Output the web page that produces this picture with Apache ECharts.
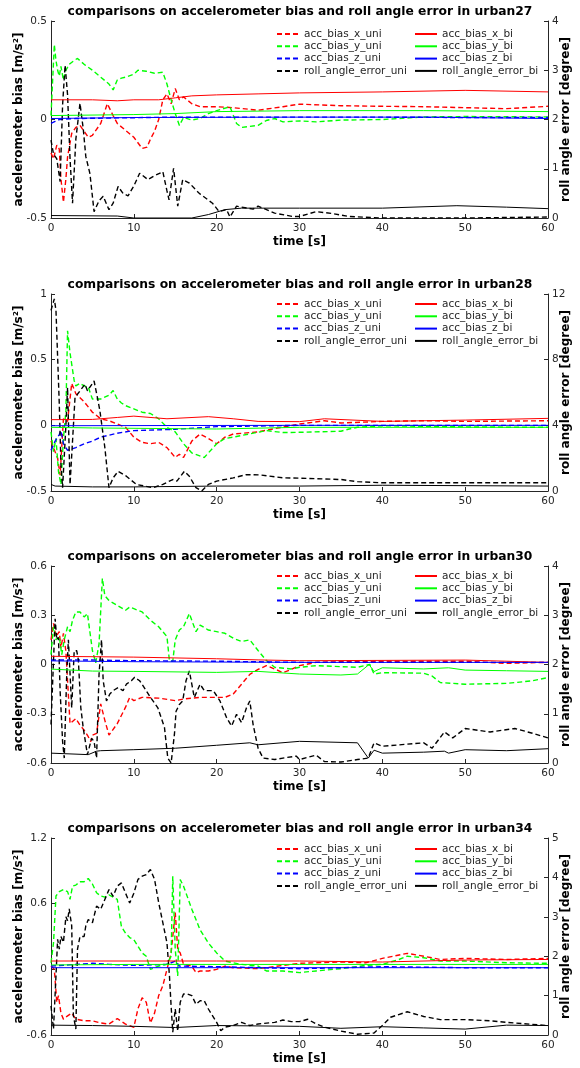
<!DOCTYPE html>
<html>
<head>
<meta charset="utf-8">
<script src="https://cdn.jsdelivr.net/npm/echarts@6/dist/echarts.min.js"></script>
<style>
html,body{margin:0;padding:0;background:#fff;}
#chart{width:580px;height:1068px;}
</style>
</head>
<body>
<div id="chart"></div>
<script>
// ---------- labels ----------
const seriesNames = ['acc_bias_x_uni','acc_bias_y_uni','acc_bias_z_uni','roll_angle_error_uni',
                     'acc_bias_x_bi','acc_bias_y_bi','acc_bias_z_bi','roll_angle_error_bi'];
const titles = ['comparisons on accelerometer bias and roll angle error in urban27',
                'comparisons on accelerometer bias and roll angle error in urban28',
                'comparisons on accelerometer bias and roll angle error in urban30',
                'comparisons on accelerometer bias and roll angle error in urban34'];
const xName = 'time [s]';
const leftName = 'accelerometer bias [m/s²]';
const rightName = 'roll angle error [degree]';
const xTicks = [0, 60, 10];
const leftMin = [-0.5, -0.5, -0.6, -0.6];
const leftMax = [0.5, 1, 0.6, 1.2];
const leftStep = [0.5, 0.5, 0.3, 0.6];
const rightMax = [4, 12, 4, 5];
const rightStep = [1, 4, 1, 1];

// ---------- urban27 ----------
const u27_x_uni = [[0,-0.17],[0.3,-0.2],[0.7,-0.13],[1,-0.15],[1.2,-0.3],[1.5,-0.42],[1.8,-0.3],[2,-0.19],[2.5,-0.07],[3,-0.04],[3.5,-0.03],[4,-0.06],[4.5,-0.09],[5,-0.08],[6,-0.02],[6.8,0.08],[7.5,0.02],[8,-0.02],[9,-0.055],[10,-0.09],[11,-0.147],[11.6,-0.14],[12,-0.1],[12.5,-0.06],[13,0],[13.5,0.1],[14,0.13],[14.5,0.08],[15,0.157],[15.5,0.1],[16,0.115],[17,0.08],[18,0.065],[20,0.065],[22,0.06],[25,0.047],[28,0.065],[30,0.078],[35,0.07],[40,0.067],[45,0.065],[50,0.06],[55,0.055],[60,0.067]];
const u27_y_uni = [[0,0.02],[0.2,0.2],[0.4,0.38],[0.6,0.3],[0.8,0.25],[1,0.22],[1.2,0.27],[1.5,0.2],[1.8,0.25],[2.2,0.28],[2.8,0.3],[3.2,0.31],[4,0.28],[5,0.25],[6,0.215],[7,0.18],[7.5,0.15],[8,0.2],[8.5,0.21],[9,0.215],[10,0.23],[10.5,0.25],[11.5,0.245],[12.5,0.235],[13.5,0.24],[14,0.18],[14.5,0.1],[15,0.03],[15.5,-0.03],[16,0.01],[17,-0.003],[18,0.005],[19,0.03],[20,0.045],[21.6,0.065],[22.4,-0.02],[23,-0.04],[25,-0.03],[26,-0.005],[27,0.005],[28,-0.012],[30,-0.007],[32,-0.012],[35,-0.003],[40,0],[45,0.013],[50,0.015],[60,0.013]];
const u27_z_uni = [[0,-0.02],[0.5,-0.01],[1,0],[3,0.005],[8,0.008],[15,0.012],[20,0.012],[30,0.012],[40,0.012],[50,0.01],[60,0.01]];
const u27_roll_uni = [[0,1.58],[0.3,1.3],[0.7,1.2],[1.1,0.74],[1.4,2.3],[1.7,3.1],[2,2.5],[2.3,1.2],[2.6,0.3],[3,1.6],[3.5,2.33],[3.9,1.8],[4.2,1.25],[4.7,0.9],[5.2,0.13],[5.8,0.35],[6.3,0.44],[7,0.17],[7.5,0.3],[8.1,0.64],[8.7,0.5],[9.3,0.45],[10,0.65],[10.7,0.91],[11.7,0.78],[12.4,0.85],[13.5,0.94],[14,0.55],[14.25,0.37],[14.8,1.01],[15.3,0.24],[15.9,0.78],[16.7,0.71],[17.9,0.5],[19.5,0.3],[20.3,0.13],[21.2,0.17],[21.6,0.02],[22.4,0.24],[24.4,0.18],[25,0.24],[27,0.1],[29.2,0.03],[30,0.03],[32,0.13],[34,0.09],[36,0.03],[40,0],[50,0],[60,0.02]];
const u27_x_bi = [[0,0.1],[5,0.1],[8,0.095],[10,0.1],[13,0.1],[15,0.11],[17,0.12],[20,0.125],[25,0.13],[30,0.135],[40,0.14],[50,0.148],[60,0.14]];
const u27_y_bi = [[0,0.02],[10,0.025],[15,0.03],[20,0.04],[30,0.045],[45,0.045],[60,0.04]];
const u27_z_bi = [[0,0.005],[10,0.01],[30,0.012],[45,0.012],[60,0.005]];
const u27_roll_bi = [[0,0.05],[8,0.04],[10,0],[17,0],[19,0.07],[21,0.17],[23,0.2],[30,0.2],[40,0.2],[49,0.25],[55,0.22],[60,0.19]];

// ---------- urban28 ----------
const u28_x_uni = [[0,-0.12],[0.3,-0.17],[0.8,-0.25],[1.1,-0.38],[1.5,0.05],[2,0.03],[2.5,0.32],[3,0.24],[4,0.18],[5,0.1],[6,0.05],[7,0.035],[8,0.01],[9,-0.015],[10,-0.09],[11,-0.13],[12,-0.14],[13,-0.13],[14,-0.17],[15,-0.245],[15.5,-0.22],[16,-0.245],[17,-0.12],[18,-0.066],[19,-0.1],[20,-0.14],[21,-0.09],[22,-0.066],[25,-0.05],[27,-0.025],[30,0.01],[33,0.035],[35,0.018],[40,0.03],[45,0.035],[50,0.03],[60,0.035]];
const u28_y_uni = [[0,-0.05],[0.3,-0.2],[0.6,-0.1],[0.9,-0.35],[1.2,-0.45],[1.5,-0.1],[1.8,0.11],[2,0.72],[2.3,0.55],[2.8,0.34],[3,0.3],[3.5,0.32],[4,0.3],[4.5,0.29],[5,0.2],[6,0.2],[7,0.23],[7.5,0.265],[8,0.2],[8.5,0.17],[9,0.15],[10,0.125],[11,0.1],[12,0.09],[13,0.05],[14,-0.015],[15,-0.05],[16,-0.14],[17,-0.21],[18.5,-0.245],[19,-0.21],[20,-0.14],[21,-0.1],[22,-0.09],[24,-0.065],[26,-0.04],[28,-0.055],[30,-0.053],[35,-0.045],[36,-0.028],[37,-0.015],[40,-0.003],[50,-0.012],[60,-0.015]];
const u28_z_uni = [[0,-0.19],[0.5,-0.12],[1,-0.07],[1.2,-0.04],[1.5,-0.14],[2,-0.19],[3,-0.17],[4,-0.14],[5,-0.12],[6,-0.09],[7,-0.075],[8,-0.06],[10,-0.04],[15,-0.03],[20,-0.01],[25,-0.005],[30,0],[60,0]];
const u28_roll_uni = [[0,11],[0.4,11.7],[0.6,11],[1,5.3],[1.2,1.6],[1.4,0.2],[1.8,4],[2,6.3],[2.3,0.4],[2.9,5.7],[4.1,6.5],[4.4,6.1],[5.2,6.7],[5.6,5.7],[5.9,4.9],[6.5,2.65],[7,0.2],[7.5,0.8],[8.1,1.2],[9.1,0.9],[10.3,0.4],[12.3,0.2],[13.5,0.4],[14.7,0.7],[15.2,0.6],[16.1,1.2],[16.7,0.9],[17.5,0.2],[18.2,0],[19,0.4],[20,0.6],[22,0.8],[23.6,1.0],[25.2,0.98],[28,0.8],[30,0.78],[35,0.7],[37,0.57],[40,0.5],[50,0.5],[60,0.5]];
const u28_x_bi = [[0,0.043],[5,0.045],[8,0.06],[10,0.07],[14,0.05],[19,0.066],[22,0.05],[25,0.03],[30,0.028],[33,0.05],[40,0.03],[50,0.04],[60,0.053]];
const u28_y_bi = [[0,-0.015],[5,-0.02],[20,-0.028],[30,-0.015],[40,-0.015],[60,-0.015]];
const u28_z_bi = [[0,-0.003],[30,0],[60,0]];
const u28_roll_bi = [[0,0.4],[0.5,0.3],[5,0.25],[10,0.25],[20,0.3],[30,0.3],[40,0.35],[60,0.3]];

// ---------- urban30 ----------
const u30_x_uni = [[0,0.15],[0.3,0.25],[0.6,0.17],[1,0.2],[1.2,0.1],[1.5,0.19],[1.8,0.08],[2,-0.1],[2.3,-0.36],[3,-0.33],[3.5,-0.37],[4,-0.4],[4.5,-0.44],[4.8,-0.47],[5,-0.43],[5.5,-0.42],[6,-0.24],[6.5,-0.34],[7,-0.43],[8,-0.36],[9,-0.26],[9.5,-0.2],[10,-0.22],[11,-0.2],[13,-0.205],[15,-0.22],[16,-0.21],[18,-0.2],[21,-0.2],[22,-0.18],[23,-0.12],[24,-0.06],[25,-0.03],[26,-0.007],[27,-0.027],[28,-0.05],[29,-0.03],[30,-0.007],[32,0.013],[35,0.017],[40,0.02],[50,0.02],[55,0.007],[60,0.013]];
const u30_y_uni = [[0,0.06],[0.3,0.23],[0.6,0.15],[1,0.17],[1.3,0.06],[1.6,0.15],[2,0.23],[2.3,0.2],[2.6,0.27],[3,0.32],[3.5,0.32],[4,0.29],[4.4,0.31],[5,0.085],[5.4,0.01],[5.8,0.125],[6.2,0.525],[6.5,0.42],[7,0.39],[8,0.36],[9,0.33],[9.5,0.35],[10,0.34],[11,0.32],[12,0.27],[13,0.23],[14,0.17],[14.3,0.02],[14.7,0.02],[15,0.15],[15.5,0.21],[16,0.23],[16.7,0.31],[17.5,0.2],[18,0.24],[19,0.21],[20,0.2],[21,0.19],[22,0.16],[23,0.14],[24,0.15],[25,0.085],[26,0.024],[27,-0.017],[29,-0.027],[30,-0.017],[32,-0.007],[35,-0.013],[37,-0.017],[38.5,0],[39,-0.058],[40,-0.05],[45,-0.053],[46,-0.07],[47,-0.11],[50,-0.12],[55,-0.115],[58,-0.1],[60,-0.08]];
const u30_z_uni = [[0,0.027],[5,0.027],[10,0.023],[20,0.02],[30,0.013],[60,0.013]];
const u30_roll_uni = [[0,0.78],[0.5,2.93],[0.7,2.5],[0.9,2.55],[1.1,1.47],[1.4,0.44],[1.6,0.1],[1.9,1.8],[2.1,2.5],[2.5,1.12],[2.8,2.28],[3.1,2.28],[3.3,2.1],[3.6,1.12],[3.9,0.7],[4.4,0.17],[4.9,0.5],[5.2,0.44],[5.5,0.1],[5.8,1.8],[6.1,2.5],[6.3,1.67],[6.7,1.26],[7.1,1.4],[7.5,1.47],[8.1,1.53],[8.7,1.47],[9.1,1.6],[9.7,1.67],[10.1,1.74],[10.7,1.67],[11.1,1.57],[11.9,1.36],[12.9,1.12],[13.7,0.72],[14.1,0.1],[14.5,0],[14.9,0.58],[15.1,1.05],[15.5,1.19],[15.9,1.26],[16.3,1.67],[16.7,1.87],[17.3,1.33],[18,1.6],[18.5,1.47],[19.6,1.47],[20.4,1.26],[21.2,0.92],[21.8,0.75],[22.4,0.99],[23,0.82],[23.6,1.12],[24,1.26],[24.4,0.78],[25,0.3],[25.6,0.1],[27,0.07],[28,0.1],[29.6,0.14],[30,0.07],[32,0.16],[33,0.03],[35,0.02],[37,0.07],[38.3,0.1],[39,0.41],[40,0.34],[45,0.41],[46,0.3],[47.5,0.63],[48.5,0.51],[50,0.7],[53,0.63],[56,0.7],[58,0.61],[60,0.51]];
const u30_x_bi = [[0,0.05],[10,0.045],[20,0.035],[25,0.028],[30,0.023],[50,0.027],[60,0.013]];
const u30_y_bi = [[0,-0.028],[5,-0.04],[10,-0.042],[20,-0.048],[25,-0.042],[30,-0.058],[35,-0.064],[37,-0.058],[38.4,0],[39,-0.043],[40,-0.02],[45,-0.027],[48,-0.02],[50,-0.034],[55,-0.038],[60,-0.042]];
const u30_z_bi = [[0,0.022],[10,0.017],[30,0.013],[60,0.013]];
const u30_roll_bi = [[0,0.2],[4.5,0.17],[5.5,0.24],[6,0.25],[10,0.27],[15,0.3],[20,0.36],[24,0.41],[25,0.37],[30,0.44],[37,0.41],[38.3,0.1],[39,0.26],[40,0.2],[45,0.22],[47.5,0.24],[48,0.2],[50,0.27],[55,0.25],[60,0.29]];

// ---------- urban34 ----------
const u34_x_uni = [[0,0.03],[0.4,0],[0.7,-0.3],[0.9,-0.24],[1.2,-0.4],[1.5,-0.455],[2,-0.425],[2.5,-0.4],[3,-0.455],[4,-0.47],[5,-0.47],[6,-0.49],[7,-0.5],[8,-0.45],[9,-0.5],[10,-0.53],[10.5,-0.36],[11,-0.26],[11.5,-0.3],[12,-0.49],[12.5,-0.4],[13,-0.24],[13.5,-0.15],[14,0],[14.5,0.15],[15,0.52],[15.3,0.18],[15.6,0.15],[16,0.045],[17,0.03],[17.5,-0.03],[18,-0.015],[19,-0.015],[20,0],[21,0.03],[22,0.015],[25,0.006],[30,0.055],[35,0.067],[38,0.06],[40,0.1],[43,0.146],[45,0.12],[47,0.09],[50,0.1],[55,0.09],[60,0.1]];
const u34_y_uni = [[0,0.06],[0.3,0.24],[0.6,0.67],[1,0.71],[1.5,0.73],[2,0.71],[2.3,0.64],[2.6,0.76],[3,0.77],[3.5,0.8],[4,0.8],[4.5,0.83],[5,0.78],[5.5,0.7],[6,0.67],[6.5,0.66],[7,0.68],[8,0.64],[8.5,0.39],[9,0.33],[9.5,0.29],[10,0.27],[10.5,0.21],[11,0.15],[11.5,0.12],[12,0],[12.5,0.015],[13,0.03],[14,0.045],[14.5,0.12],[14.7,0.85],[15,0.18],[15.3,-0.06],[15.6,0.82],[16,0.76],[17,0.55],[18,0.36],[19,0.24],[20,0.15],[21,0.076],[22,0.06],[23,0.045],[25,0.03],[26,-0.015],[28,-0.015],[30,-0.03],[32,-0.015],[35,0.006],[38,0.036],[40,0.045],[42,0.09],[43,0.12],[45,0.106],[47,0.076],[50,0.076],[55,0.06],[60,0.055]];
const u34_z_uni = [[0,0.03],[5,0.055],[7,0.045],[10,0.036],[14,0.045],[15,0.075],[15.5,0.03],[20,0.024],[30,0.006],[40,0.024],[50,0.015],[60,0.015]];
const u34_roll_uni = [[0,0.74],[0.3,0.15],[0.6,1.5],[0.8,2.43],[1,2.18],[1.2,2.5],[1.5,2.35],[1.8,3.0],[2,2.9],[2.2,3.2],[2.5,2.77],[2.7,0.5],[3,0.15],[3.2,2.18],[3.5,2.5],[4,2.5],[4.2,2.77],[4.5,2.93],[5,2.85],[5.5,3.27],[6,3.19],[6.5,3.44],[7,3.69],[7.5,3.52],[8,3.78],[8.5,3.86],[9,3.6],[9.5,3.35],[10,3.6],[10.5,3.95],[11,4.03],[11.5,4.07],[12,4.2],[12.5,3.95],[13,3.36],[13.5,2.85],[14,2.34],[14.3,1.5],[14.5,0.74],[14.7,0.07],[15,0.66],[15.3,0.1],[15.6,0.83],[16,1.04],[16.5,1.04],[17,1.0],[17.5,0.78],[18,0.87],[18.5,0.87],[19,0.66],[20,0.32],[20.5,0.11],[21,0.2],[22,0.24],[23,0.32],[24,0.24],[25,0.28],[27,0.32],[28,0.38],[29,0.34],[30,0.34],[31,0.4],[32,0.28],[33,0.2],[35,0.1],[37,0.02],[39,0.05],[40,0.24],[41,0.45],[43,0.59],[45,0.47],[47,0.39],[50,0.39],[53,0.36],[55,0.32],[60,0.24]];
const u34_x_bi = [[0,0.076],[10,0.076],[20,0.076],[30,0.076],[40,0.067],[50,0.085],[60,0.09]];
const u34_y_bi = [[0,0.04],[10,0.045],[30,0.045],[60,0.045]];
const u34_z_bi = [[0,0.015],[60,0.015]];
const u34_roll_bi = [[0,0.25],[5,0.24],[10,0.22],[15,0.19],[20,0.24],[30,0.22],[35,0.17],[40,0.21],[45,0.18],[50,0.15],[55,0.25],[60,0.24]];

const panelData = [
  [u27_x_uni,u27_y_uni,u27_z_uni,u27_roll_uni,u27_x_bi,u27_y_bi,u27_z_bi,u27_roll_bi],
  [u28_x_uni,u28_y_uni,u28_z_uni,u28_roll_uni,u28_x_bi,u28_y_bi,u28_z_bi,u28_roll_bi],
  [u30_x_uni,u30_y_uni,u30_z_uni,u30_roll_uni,u30_x_bi,u30_y_bi,u30_z_bi,u30_roll_bi],
  [u34_x_uni,u34_y_uni,u34_z_uni,u34_roll_uni,u34_x_bi,u34_y_bi,u34_z_bi,u34_roll_bi]
];

// ---------- styling / layout ----------
const FONT = 'DejaVu Sans';
const AX = '#262626';
const lineColors = ['#ff0000','#00ff00','#0000ff','#000000','#ff0000','#00ff00','#0000ff','#000000'];
const gridTops = [21, 294, 566, 838];
const legendTops = [28, 298, 570, 843];
const GL = 51, GR = 32, GH = 197;

const option = {
  animation: false,
  backgroundColor: '#fff',
  textStyle: { fontFamily: FONT },
  title: [], grid: [], xAxis: [], yAxis: [], legend: [], series: []
};

for (let p = 0; p < 4; p++) {
  option.title.push({
    text: titles[p], left: 300, top: gridTops[p] - 15, textAlign: 'center', padding: 0,
    textStyle: { fontFamily: FONT, fontSize: 12.3, fontWeight: 'bold', color: '#000' }
  });
  option.grid.push({ left: GL, right: GR, top: gridTops[p], height: GH, containLabel: false, outerBoundsMode: 'none' });
  option.xAxis.push({
    type: 'value', gridIndex: p, min: xTicks[0], max: xTicks[1], interval: xTicks[2],
    name: xName, nameLocation: 'middle', nameGap: 18, nameMoveOverlap: false,
    nameTextStyle: { fontFamily: FONT, fontSize: 12, fontWeight: 'bold', color: '#000' },
    axisLine: { show: true, onZero: false, lineStyle: { color: AX, width: 1 } },
    axisTick: { show: true, inside: true, length: 4, lineStyle: { color: AX } },
    axisLabel: { fontFamily: FONT, fontSize: 10.5, color: AX, margin: 5 },
    splitLine: { show: false }
  });
  option.yAxis.push({
    type: 'value', gridIndex: p, position: 'left',
    min: leftMin[p], max: leftMax[p], interval: leftStep[p],
    name: leftName, nameLocation: 'middle', nameGap: 26, nameRotate: 90, nameMoveOverlap: false,
    nameTextStyle: { fontFamily: FONT, fontSize: 12, fontWeight: 'bold', color: '#000' },
    axisLine: { show: true, onZero: false, lineStyle: { color: AX, width: 1 } },
    axisTick: { show: true, inside: true, length: 4, lineStyle: { color: AX } },
    axisLabel: { fontFamily: FONT, fontSize: 10.5, color: AX, margin: 4 },
    splitLine: { show: false }
  });
  option.yAxis.push({
    type: 'value', gridIndex: p, position: 'right',
    min: 0, max: rightMax[p], interval: rightStep[p],
    name: rightName, nameLocation: 'middle', nameGap: 12, nameRotate: 90, nameMoveOverlap: false,
    nameTextStyle: { fontFamily: FONT, fontSize: 12, fontWeight: 'bold', color: '#000' },
    axisLine: { show: true, onZero: false, lineStyle: { color: AX, width: 1 } },
    axisTick: { show: true, inside: true, length: 4, lineStyle: { color: AX } },
    axisLabel: { fontFamily: FONT, fontSize: 10.5, color: AX, margin: 4 },
    splitLine: { show: false }
  });
  const legBase = {
    orient: 'vertical', top: legendTops[p], itemWidth: 22, itemHeight: 12, itemGap: 0.3,
    padding: 0, selectedMode: false,
    itemStyle: { opacity: 0 },
    textStyle: { fontFamily: FONT, fontSize: 10.5, color: AX, lineHeight: 12 }
  };
  option.legend.push(Object.assign({}, legBase, { left: 276, data: seriesNames.slice(0, 4) }));
  option.legend.push(Object.assign({}, legBase, { left: 414, data: seriesNames.slice(4, 8) }));

  for (let s = 0; s < 8; s++) {
    const dashed = s < 4;
    const isRoll = (s % 4) === 3;
    option.series.push({
      name: seriesNames[s], type: 'line',
      xAxisIndex: p, yAxisIndex: 2 * p + (isRoll ? 1 : 0),
      data: panelData[p][s],
      showSymbol: false, symbol: 'none', smooth: false,
      color: lineColors[s],
      lineStyle: { color: lineColors[s], width: dashed ? 1.4 : 1, type: dashed ? [5, 3] : 'solid' },
      z: dashed ? 2 : 3
    });
  }
}

const chart = echarts.init(document.getElementById('chart'), null, { renderer: 'canvas' });
chart.setOption(option);
</script>
</body>
</html>
